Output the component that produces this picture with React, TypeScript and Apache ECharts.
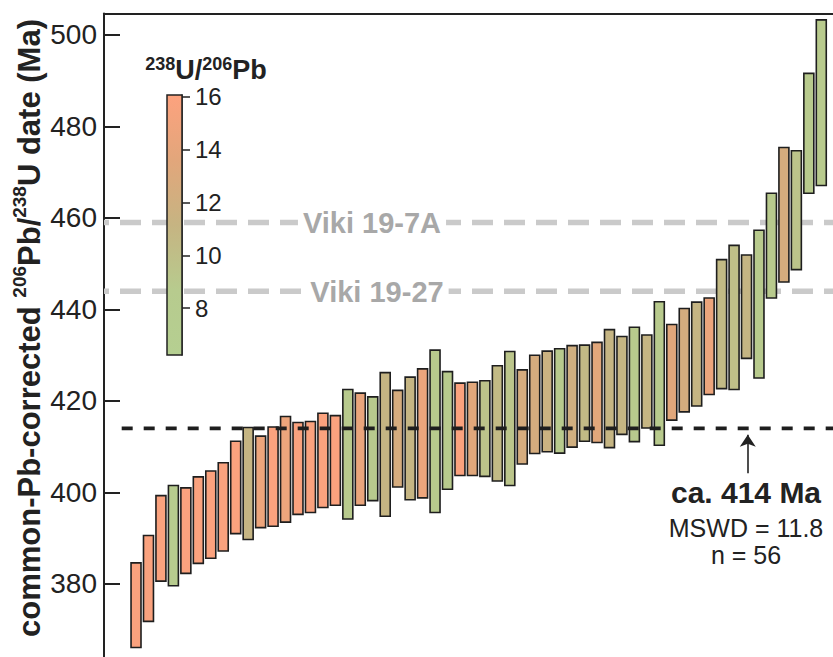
import React, { useEffect, useRef } from 'react';
import * as echarts from 'echarts';

// Lower and upper ends of each date bar (Ma), sorted order
const lows = [366.1, 371.8, 380.6, 379.6, 382.3, 384.5, 385.6, 387.2, 391.0, 389.7,
  392.3, 392.6, 393.5, 395.2, 395.6, 396.7, 397.2, 394.2, 397.2, 398.2,
  394.8, 401.2, 398.4, 398.8, 395.6, 400.7, 403.7, 403.7, 403.5, 402.5,
  401.5, 406.2, 408.5, 408.9, 408.6, 409.9, 411.2, 410.9, 409.8, 412.7,
  411.1, 414.1, 410.3, 415.8, 417.6, 418.9, 421.4, 422.7, 422.5, 429.3,
  425.0, 442.5, 446.0, 448.7, 465.4, 467.1];
const highs = [384.6, 390.6, 399.3, 401.5, 401.0, 403.4, 404.7, 406.5, 411.2, 414.2,
  412.3, 414.3, 416.6, 415.3, 415.5, 417.3, 416.8, 422.5, 421.7, 420.9,
  426.2, 422.3, 425.2, 427.0, 431.1, 426.4, 423.9, 424.1, 424.4, 427.7,
  430.8, 426.8, 430.0, 430.9, 431.4, 432.1, 432.2, 432.8, 435.6, 434.1,
  436.1, 434.4, 441.7, 436.7, 440.2, 441.6, 442.5, 450.9, 454.0, 451.9,
  457.3, 465.4, 475.4, 474.7, 491.6, 503.3];
// 238U/206Pb ratio per bar (colour)
const ratios = [15.8, 15.8, 15.8, 8.5, 15.8, 15.8, 15.8, 15.8, 15.8, 11,
  14.5, 15.8, 14.5, 15.8, 15.8, 15.8, 15.8, 8.8, 14.2, 8.8,
  11, 12.5, 11, 14.5, 8.8, 8.8, 15.8, 13.5, 9.5, 10.5,
  9.3, 12.5, 12.5, 11.5, 8.8, 12, 10.5, 13.5, 11, 11,
  8.8, 11, 8.8, 13.5, 12.5, 11, 14.5, 10.5, 10, 11,
  8.8, 8.8, 12.5, 9.5, 8.8, 8.8];

const yTicks = [380, 400, 420, 440, 460, 480, 500];
const cbTicks = [8, 10, 12, 14, 16];
const cbMin = 6.23;
const cbMax = 16.06;
const rampColors = ['#b5cf91', '#b7cb8e', '#c6b482', '#e2a67b', '#fda27e'];

const weightedMean = 414;
const refLines = [
  { name: 'Viki 19-7A', value: 459 },
  { name: 'Viki 19-27', value: 444 },
];
const mswd = 11.8;

const FONT = 'Liberation Sans, Arial, Helvetica, sans-serif';

export default function App() {
  const ref = useRef<HTMLDivElement>(null);
  useEffect(() => {
    if (!ref.current) return;
    const chart = echarts.init(ref.current, undefined, { renderer: 'svg' });
    const n = lows.length;
    const xMin = -1.57;
    const xMax = 56.94;
    const data = lows.map((lo, i) => [i + 1, lo, highs[i], ratios[i]]);
    const gradStops = rampColors
      .map((c, k) => ({ offset: 1 - k / (rampColors.length - 1), color: c }))
      .reverse();

    const option: any = {
      animation: false,
      textStyle: { fontFamily: FONT },
      grid: [
        { left: 104, right: 0, top: 13.5, bottom: 0.6, show: false },
        {
          left: 167, top: 95, width: 15, height: 260, show: true, z: 5,
          backgroundColor: new echarts.graphic.LinearGradient(0, 0, 0, 1, gradStops),
          borderColor: '#222', borderWidth: 1.5,
        },
      ],
      xAxis: [
        {
          type: 'value', gridIndex: 0, position: 'top', min: xMin, max: xMax,
          axisLine: { show: true, onZero: false, lineStyle: { color: '#222', width: 2 } },
          axisTick: { show: false }, axisLabel: { show: false }, splitLine: { show: false },
        },
        {
          type: 'value', gridIndex: 1, min: 0, max: 1, show: false,
        },
      ],
      yAxis: [
        {
          type: 'value', gridIndex: 0, min: 360, max: 504.7, interval: 20,
          axisLine: { show: true, onZero: false, lineStyle: { color: '#222', width: 2 } },
          axisTick: { show: true, inside: true, length: 16, lineStyle: { color: '#222', width: 2 } },
          axisLabel: {
            color: '#222', fontSize: 28, margin: 7, fontFamily: FONT, showMaxLabel: false,
            formatter: (v: number) => (yTicks.indexOf(v) >= 0 ? String(v) : ''),
          },
          splitLine: { show: false },
        },
        {
          type: 'value', gridIndex: 1, min: cbMin, max: cbMax, position: 'right',
          axisLine: { show: true, onZero: false, lineStyle: { color: '#222', width: 1.5 } },
          axisTick: { show: true, inside: false, length: 8, customValues: cbTicks, lineStyle: { color: '#222', width: 1.5 } },
          axisLabel: { show: true, customValues: cbTicks, color: '#222', fontSize: 24, margin: 13, fontFamily: FONT },
          splitLine: { show: false },
        },
      ],
      visualMap: {
        type: 'continuous', show: false, min: cbMin, max: cbMax, dimension: 3, seriesIndex: 0,
        inRange: { color: rampColors },
      },
      series: [
        {
          type: 'custom',
          xAxisIndex: 0, yAxisIndex: 0,
          z: 3,
          encode: { x: 0, y: [1, 2] },
          data,
          renderItem: (params: any, api: any) => {
            const x = api.value(0);
            const lo = api.value(1);
            const hi = api.value(2);
            const p1 = api.coord([x, hi]);
            const p2 = api.coord([x, lo]);
            const w = api.size([1, 0])[0] * 0.8;
            return {
              type: 'rect',
              shape: { x: p1[0] - w / 2, y: p1[1], width: w, height: p2[1] - p1[1] },
              style: { fill: api.visual('color'), stroke: '#1e1e1e', lineWidth: 1.6 },
            };
          },
        },
        ...refLines.map((r) => ({
          type: 'line', xAxisIndex: 0, yAxisIndex: 0, z: 1, silent: true,
          showSymbol: false, symbol: 'none',
          data: [[xMin, r.value], [xMax, r.value]],
          lineStyle: { color: '#cacaca', width: 5.5, type: [21, 11], dashOffset: 15.7 },
        })),
        {
          type: 'line', xAxisIndex: 0, yAxisIndex: 0, z: 6, silent: true,
          showSymbol: false, symbol: 'none',
          data: [[-0.15, weightedMean], [xMax, weightedMean]],
          lineStyle: { color: '#1e1e1e', width: 3.6, type: [11, 11] },
          markLine: {
            silent: true, symbol: ['none', 'arrow'], symbolSize: 12,
            label: { show: false },
            lineStyle: { color: '#222', width: 1.6, type: 'solid' },
            data: [[{ coord: [50.1, 404.2] }, { coord: [50.1, 412.6] }]],
          },
        },
      ],
      graphic: [
        {
          type: 'text', x: 27, y: 328, rotation: Math.PI / 2, z: 100,
          style: {
            text: '{b|common-Pb-corrected }{s|206}{b|Pb/}{s|238}{b|U date (Ma)}',
            align: 'center', verticalAlign: 'middle',
            rich: {
              b: { fontSize: 31, fontWeight: 'bold', fontFamily: FONT, fill: '#222', lineHeight: 35, verticalAlign: 'bottom' },
              s: { fontSize: 19, fontWeight: 'bold', fontFamily: FONT, fill: '#222', lineHeight: 35, verticalAlign: 'top' },
            },
          },
        },
        {
          type: 'text', x: 206, y: 69, z: 100,
          style: {
            text: '{s|238}{b|U/}{s|206}{b|Pb}',
            align: 'center', verticalAlign: 'middle',
            rich: {
              b: { fontSize: 27, fontWeight: 'bold', fontFamily: FONT, fill: '#222', lineHeight: 29, verticalAlign: 'bottom' },
              s: { fontSize: 18, fontWeight: 'bold', fontFamily: FONT, fill: '#222', lineHeight: 29, verticalAlign: 'top' },
            },
          },
        },
        ...refLines.map((r, k) => ({
          type: 'text', x: k === 0 ? 372 : 377, y: k === 0 ? 222.7 : 292, z: 100,
          style: {
            text: r.name, align: 'center', verticalAlign: 'middle',
            fontSize: 29, fontWeight: 'bold', fontFamily: FONT, fill: '#a8a8a8',
            backgroundColor: '#ffffff', padding: [0, 5],
          },
        })),
        {
          type: 'text', x: 746, y: 492, z: 100,
          style: { text: 'ca. ' + weightedMean + ' Ma', align: 'center', verticalAlign: 'middle', fontSize: 30, fontWeight: 'bold', fontFamily: FONT, fill: '#222' },
        },
        {
          type: 'text', x: 746, y: 528, z: 100,
          style: { text: 'MSWD = ' + mswd, align: 'center', verticalAlign: 'middle', fontSize: 25, fontFamily: FONT, fill: '#222' },
        },
        {
          type: 'text', x: 746, y: 555, z: 100,
          style: { text: 'n = ' + n, align: 'center', verticalAlign: 'middle', fontSize: 25, fontFamily: FONT, fill: '#222' },
        },
      ],
    };
    chart.setOption(option);
    return () => chart.dispose();
  }, []);
  return (
    <div style={{ position: 'fixed', left: 0, top: 0, width: 833, height: 657, overflow: 'hidden', background: '#fff' }}>
      <div ref={ref} style={{ width: 833, height: 676 }} />
    </div>
  );
}
